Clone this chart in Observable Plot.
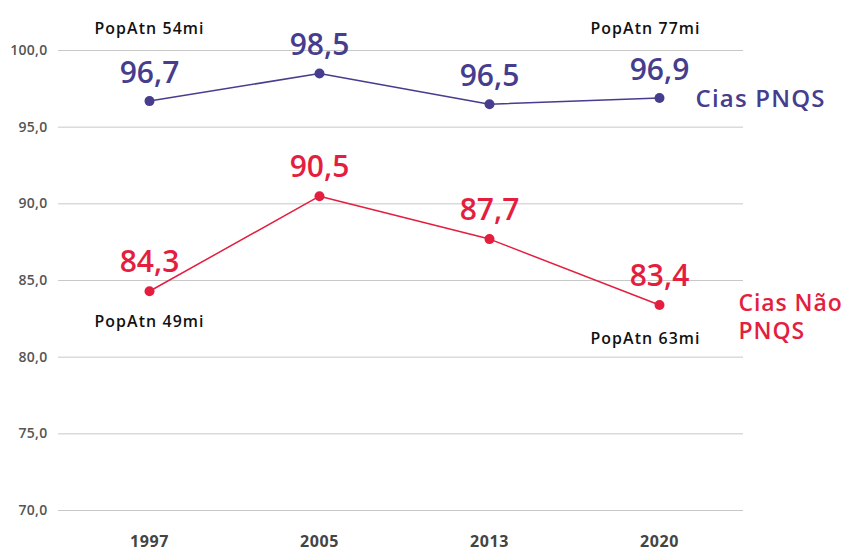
<!DOCTYPE html>
<html>
<head>
<meta charset="utf-8">
<script src="https://cdn.jsdelivr.net/npm/d3@7"></script>
<script src="https://cdn.jsdelivr.net/npm/@observablehq/plot@0.6"></script>
<style>
  html, body { margin: 0; padding: 0; background: #fff; }
  #chart svg { display: block; }
  g[font-size="15.9"] { letter-spacing: 1.1px; }
  g[font-size="16"] { letter-spacing: 0.6px; }
  g[font-size="24"] { letter-spacing: 1.2px; }
  g[font-size="23"] { letter-spacing: 0.9px; }
  g[font-size="14"] { letter-spacing: 0.3px; }
</style>
</head>
<body>
<div id="chart"></div>
<script>
const years = ["1997", "2005", "2013", "2020"];
const pnqs = [96.7, 98.5, 96.5, 96.9];
const naoPnqs = [84.3, 90.5, 87.7, 83.4];
const popTop = ["PopAtn 54mi", "", "", "PopAtn 77mi"];
const popBottom = ["PopAtn 49mi", "", "", "PopAtn 63mi"];
const seriesNames = ["Cias PNQS", "Cias Não\nPNQS"];
const yTicks = [70, 75, 80, 85, 90, 95, 100];

const BLUE = "#463d8e";
const RED = "#e41e3f";
const FONT = "'Open Sans', 'Noto Sans', sans-serif";

const blueData = years.map((y, i) => ({year: y, value: pnqs[i], top: popTop[i]}));
const redData = years.map((y, i) => ({year: y, value: naoPnqs[i], bottom: popBottom[i]}));
const fmt = v => v.toFixed(1).replace(".", ",");
const last = years.length - 1;

const chart = Plot.plot({
  width: 847,
  height: 551,
  marginTop: 50,
  marginBottom: 41,
  marginLeft: 58,
  marginRight: 104,
  style: {fontFamily: FONT, background: "#fff", overflow: "visible"},
  x: {type: "point", domain: years, padding: 0.51, align: 0.52},
  y: {domain: [70, 100]},
  marks: [
    Plot.ruleY(yTicks, {stroke: "#c8c8c8", strokeWidth: 1}),
    Plot.axisY({ticks: yTicks, tickSize: 0, tickPadding: 11, tickFormat: fmt,
      fontSize: 14, fontWeight: 600, fill: "#555", label: null}),
    Plot.axisX({tickSize: 0, tickPadding: 25, fontSize: 16, fontWeight: 700,
      fill: "#444", label: null}),
    Plot.line(blueData, {x: "year", y: "value", stroke: BLUE, strokeWidth: 1.5}),
    Plot.dot(blueData, {x: "year", y: "value", r: 5, fill: BLUE}),
    Plot.line(redData, {x: "year", y: "value", stroke: RED, strokeWidth: 1.5}),
    Plot.dot(redData, {x: "year", y: "value", r: 5, fill: RED}),
    Plot.text(blueData, {x: "year", y: "value", text: d => fmt(d.value), dy: -28,
      fill: BLUE, fontSize: 30, fontWeight: 600}),
    Plot.text(redData, {x: "year", y: "value", text: d => fmt(d.value), dy: -29,
      fill: RED, fontSize: 30, fontWeight: 600}),
    Plot.text(blueData.filter((d, i) => d.top && i !== last), {x: "year", frameAnchor: "top", text: "top",
      dy: -28, fill: "#111", fontSize: 15.9, fontWeight: 600}),
    Plot.text(blueData.filter((d, i) => d.top && i === last), {x: "year", frameAnchor: "top", text: "top",
      dy: -28, dx: -14, fill: "#111", fontSize: 15.9, fontWeight: 600}),
    Plot.text(redData.filter((d, i) => d.bottom && i !== last), {x: "year", y: "value", text: "bottom",
      dy: 31, fill: "#111", fontSize: 15.9, fontWeight: 600}),
    Plot.text(redData.filter((d, i) => d.bottom && i === last), {x: "year", y: "value", text: "bottom",
      dy: 34, dx: -14, fill: "#111", fontSize: 15.9, fontWeight: 600}),
    Plot.text([blueData[last]], {x: "year", y: "value", text: () => seriesNames[0],
      textAnchor: "start", dx: 36, dy: 1, fill: BLUE, fontSize: 24, fontWeight: 600}),
    Plot.text([redData[last]], {x: "year", y: "value", text: () => seriesNames[1],
      textAnchor: "start", lineAnchor: "middle", lineHeight: 1.2, dx: 79, dy: 11,
      fill: RED, fontSize: 23, fontWeight: 600})
  ]
});
document.getElementById("chart").appendChild(chart);
</script>
</body>
</html>
